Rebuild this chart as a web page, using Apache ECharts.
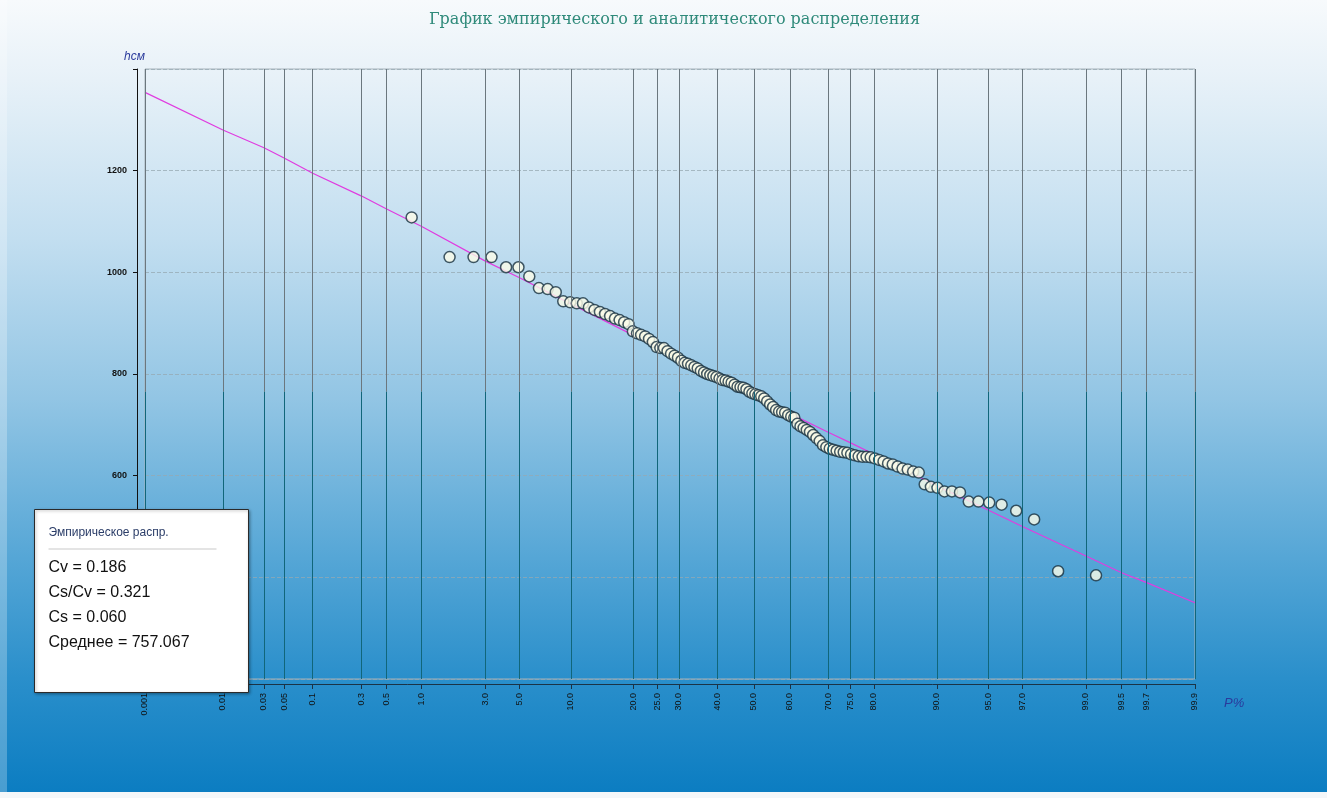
<!DOCTYPE html>
<html>
<head>
<meta charset="utf-8">
<title>График эмпирического и аналитического распределения</title>
<script src="https://cdn.jsdelivr.net/npm/echarts@6/dist/echarts.min.js"></script>
<style>
  html, body { margin: 0; padding: 0; background: #fff; }
  #chart { width: 1327px; height: 798px; }
</style>
</head>
<body>
<div id="chart"></div>
<script>
// отметки оси обеспеченности, P%
var probTicks = [0.001, 0.01, 0.03, 0.05, 0.1, 0.3, 0.5, 1, 3, 5, 10, 20, 25, 30, 40, 50, 60, 70, 75, 80, 90, 95, 97, 99, 99.5, 99.7, 99.9];
var probLabels = ["0.001", "0.01", "0.03", "0.05", "0.1", "0.3", "0.5", "1.0", "3.0", "5.0", "10.0", "20.0", "25.0", "30.0", "40.0", "50.0", "60.0", "70.0", "75.0", "80.0", "90.0", "95.0", "97.0", "99.0", "99.5", "99.7", "99.9"];

// подписи оси h (200 и 400 закрыты табличкой)
var yLabels = ["1200", "1000", "800", "600"];

// аналитическая кривая - значения на отметках probTicks
var curveValues = [1354, 1280, 1245, 1225, 1195, 1150, 1125, 1090, 1022, 990, 938, 876, 853, 831, 793, 757, 722, 685, 665, 642, 580, 532, 500, 442, 409, 390, 350];

// эмпирический ряд, по убыванию (ранг m = 1..n)
var empValues = [
  1108, 1030, 1030, 1030, 1010, 1010, 992, 969, 967, 961,
  943, 941, 939, 939, 931, 926, 922, 918, 914, 909,
  906, 902, 898, 884, 880, 877, 874, 869, 863, 853,
  851, 851, 845, 840, 836, 832, 826, 822, 820, 817,
  814, 811, 806, 803, 800, 798, 796, 794, 791, 788,
  787, 785, 783, 779, 775, 774, 773, 770, 765, 762,
  760, 758, 756, 752, 746, 740, 735, 729, 726, 725,
  724, 719, 716, 714, 702, 697, 694, 690, 686, 680,
  674, 668, 660, 656, 653, 651, 649, 647, 646, 645,
  642, 640, 638, 637, 637, 636, 634, 631, 628, 624,
  622, 618, 614, 612, 608, 606, 583, 578, 576, 569,
  569, 567, 549, 549, 547, 543, 531, 514, 412, 404
];

var statsLines = ["Cv = 0.186", "Cs/Cv = 0.321", "Cs = 0.060", "Среднее = 757.067"];

// клетчатка вероятностей: P% -> квантиль нормального распределения
function normInv(p) {
  var a = [-3.969683028665376e+01, 2.209460984245205e+02, -2.759285104469687e+02, 1.383577518672690e+02, -3.066479806614716e+01, 2.506628277459239e+00];
  var b = [-5.447609879822406e+01, 1.615858368580409e+02, -1.556989798598866e+02, 6.680131188771972e+01, -1.328068155288572e+01];
  var c = [-7.784894002430293e-03, -3.223964580411365e-01, -2.400758277161838e+00, -2.549732539343734e+00, 4.374664141464968e+00, 2.938163982698783e+00];
  var d = [7.784695709041462e-03, 3.224671290700398e-01, 2.445134137142996e+00, 3.754408661907416e+00];
  var plow = 0.02425, q, r;
  if (p < plow) {
    q = Math.sqrt(-2 * Math.log(p));
    return (((((c[0] * q + c[1]) * q + c[2]) * q + c[3]) * q + c[4]) * q + c[5]) / ((((d[0] * q + d[1]) * q + d[2]) * q + d[3]) * q + 1);
  }
  if (p > 1 - plow) {
    q = Math.sqrt(-2 * Math.log(1 - p));
    return -(((((c[0] * q + c[1]) * q + c[2]) * q + c[3]) * q + c[4]) * q + c[5]) / ((((d[0] * q + d[1]) * q + d[2]) * q + d[3]) * q + 1);
  }
  q = p - 0.5;
  r = q * q;
  return (((((a[0] * r + a[1]) * r + a[2]) * r + a[3]) * r + a[4]) * r + a[5]) * q / (((((b[0] * r + b[1]) * r + b[2]) * r + b[3]) * r + b[4]) * r + 1);
}

var tickZ = probTicks.map(function (p) { return normInv(p / 100); });
var curveData = tickZ.map(function (z, i) { return [z, curveValues[i]]; });
// эмпирическая обеспеченность m/(n+1)
var empData = empValues.map(function (v, i) { return [normInv((i + 1) / (empValues.length + 1)), v]; });

var SPLIT_Y = 765; // где сетка меняет цвет
var vLines = [];
tickZ.forEach(function (z) {
  vLines.push([{ coord: [z, 1400], lineStyle: { color: "#6b777e" } }, { coord: [z, SPLIT_Y] }]);
  vLines.push([{ coord: [z, SPLIT_Y], lineStyle: { color: "#11667a" } }, { coord: [z, 200] }]);
});

function labelFor(v) {
  var best = 0;
  for (var i = 1; i < tickZ.length; i++) {
    if (Math.abs(tickZ[i] - v) < Math.abs(tickZ[best] - v)) best = i;
  }
  return probLabels[best];
}

var chart = echarts.init(document.getElementById("chart"));
chart.setOption({
  animation: false,
  backgroundColor: new echarts.graphic.LinearGradient(0, 0, 0, 1, [
    { offset: 0, color: "#f7fafc" },
    { offset: 0.1, color: "#e7f1f8" },
    { offset: 0.3, color: "#c2def0" },
    { offset: 0.5, color: "#92c5e4" },
    { offset: 0.7, color: "#55a6d6" },
    { offset: 0.85, color: "#2a8fcb" },
    { offset: 1, color: "#0a7cc1" }
  ]),
  title: {
    text: "График эмпирического и аналитического распределения",
    left: 424,
    top: 7,
    textStyle: { fontFamily: "DejaVu Serif", fontWeight: "normal", fontSize: 16, color: "#2f8a7a" }
  },
  grid: { left: 145, right: 132, top: 69, bottom: 119, show: true, borderColor: "#a7b3ba", borderWidth: 1 },
  xAxis: {
    type: "value",
    min: tickZ[0],
    max: tickZ[tickZ.length - 1],
    offset: 5,
    axisLine: { onZero: false, lineStyle: { color: "#1b3346" } },
    axisTick: { customValues: tickZ, length: 5, lineStyle: { color: "#1b3346" } },
    axisLabel: {
      customValues: tickZ,
      rotate: 90,
      margin: 9,
      fontSize: 9,
      fontFamily: "Liberation Sans",
      color: "#111",
      formatter: labelFor
    },
    splitLine: { show: false }
  },
  yAxis: {
    type: "value",
    min: 200,
    max: 1400,
    interval: 200,
    offset: 8,
    axisLine: { show: true, onZero: false, lineStyle: { color: "#111" } },
    axisTick: { show: true, length: 4, lineStyle: { color: "#111" } },
    axisLabel: {
      fontSize: 9,
      fontFamily: "Liberation Sans",
      fontWeight: "bold",
      color: "#111",
      margin: 10,
      formatter: function (v) {
        var s = String(v);
        return yLabels.indexOf(s) >= 0 ? s : "";
      }
    },
    splitLine: { show: true, lineStyle: { type: "dashed", color: "rgba(150,168,178,0.75)" } }
  },
  series: [
    {
      type: "line",
      data: [],
      z: 1,
      silent: true,
      markLine: {
        silent: true,
        symbol: ["none", "none"],
        label: { show: false },
        lineStyle: { type: "solid", width: 1 },
        data: vLines
      }
    },
    {
      name: "Аналитическое",
      type: "line",
      data: curveData,
      z: 3,
      symbol: "none",
      lineStyle: { color: "#e03ce0", width: 1.2 }
    },
    {
      name: "Эмпирическое",
      type: "scatter",
      data: empData,
      z: 4,
      symbolSize: 11,
      itemStyle: { color: "#fcfde9", borderColor: "#17303f", borderWidth: 1.5 }
    }
  ],
  graphic: [
    { type: "text", left: 124, top: 51, z: 50, style: { text: "hсм", fontSize: 12, fontStyle: "italic", fontFamily: "Liberation Sans", fill: "#2a3a9c" } },
    { type: "text", left: 1224, top: 697, z: 50, style: { text: "P%", fontSize: 13, fontStyle: "italic", fontFamily: "Liberation Sans", fill: "#2a3a9c" } },
    { type: "rect", left: 0, top: 0, z: 40, shape: { width: 7, height: 798 }, style: { fill: "rgba(255,255,255,0.25)" } },
    { type: "rect", left: 0, top: 792, z: 40, shape: { width: 1327, height: 6 }, style: { fill: "#f4f7f9" } },
    {
      type: "group",
      left: 34,
      top: 509,
      z: 100,
      children: [
        { type: "rect", z: 100, shape: { x: 0, y: 0, width: 214, height: 183 }, style: { fill: "#ffffff", stroke: "#2a2a2a", lineWidth: 1, shadowBlur: 3, shadowOffsetX: 1, shadowOffsetY: 1, shadowColor: "rgba(0,0,0,0.35)" } },
        { type: "text", z: 101, x: 14, y: 17, style: { text: "Эмпирическое распр.", fontSize: 12, fontFamily: "Liberation Sans", fill: "#2b3d68" } },
        { type: "line", z: 101, shape: { x1: 14, y1: 39.5, x2: 182, y2: 39.5 }, style: { stroke: "#c9c9c9", lineWidth: 1 } }
      ].concat(statsLines.map(function (t, i) {
        return { type: "text", z: 101, x: 14, y: 50 + i * 25, style: { text: t, fontSize: 16, fontFamily: "Liberation Sans", fill: "#111" } };
      }))
    }
  ]
});
</script>
</body>
</html>
